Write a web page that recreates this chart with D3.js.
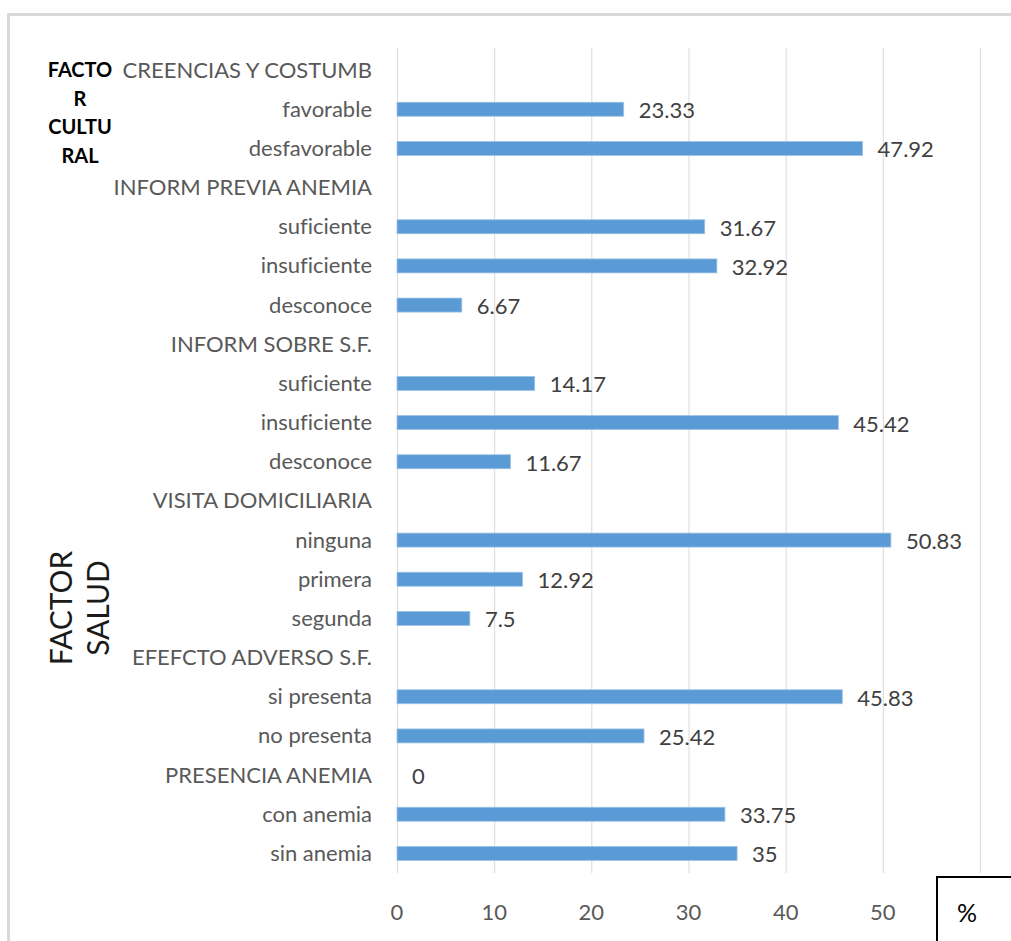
<!DOCTYPE html>
<html>
<head>
<meta charset="utf-8">
<script src="https://cdn.jsdelivr.net/npm/d3@7"></script>
<style>
  html, body { margin: 0; padding: 0; background: #fff; }
  svg { display: block; }
  svg text { font-variant-ligatures: none; font-feature-settings: "liga" 0; }
</style>
</head>
<body>
<svg id="chart" width="1011" height="941"></svg>
<script>
// Category labels, top to bottom
const categories = [
  "CREENCIAS Y COSTUMB", "favorable", "desfavorable",
  "INFORM PREVIA ANEMIA", "suficiente", "insuficiente", "desconoce",
  "INFORM SOBRE S.F.", "suficiente ", "insuficiente ", "desconoce ",
  "VISITA DOMICILIARIA", "ninguna", "primera", "segunda",
  "EFEFCTO ADVERSO S.F.", "si presenta", "no presenta",
  "PRESENCIA ANEMIA", "con anemia", "sin anemia"
];
// Percentage per category (null = group heading without a value)
const values = [
  null, 23.33, 47.92,
  null, 31.67, 32.92, 6.67,
  null, 14.17, 45.42, 11.67,
  null, 50.83, 12.92, 7.5,
  null, 45.83, 25.42,
  0, 33.75, 35
];
const xTicks = [0, 10, 20, 30, 40, 50, 60];
const xTickLabels = ["0", "10", "20", "30", "40", "50", ""];

const FONT = "Lato, 'Liberation Sans', sans-serif";
const svg = d3.select("#chart");

// outer frame
svg.append("rect")
  .attr("x", 8.5).attr("y", 14.5)
  .attr("width", 1100).attr("height", 1100)
  .attr("fill", "none").attr("stroke", "#d9d9d9").attr("stroke-width", 3);

const x = d3.scaleLinear().domain([0, 60]).range([397, 980]);
const y = d3.scaleBand()
  .domain(categories.map((c, i) => i))
  .range([50.5, 873]);

// vertical gridlines
svg.append("g").selectAll("line").data(xTicks).join("line")
  .attr("x1", d => x(d) + 0.5).attr("x2", d => x(d) + 0.5)
  .attr("y1", 48).attr("y2", 873)
  .attr("stroke", "#d9d9d9").attr("stroke-width", 1);

// x tick labels
svg.append("g").selectAll("text").data(xTicks).join("text")
  .attr("x", d => x(d)).attr("y", 920)
  .attr("text-anchor", "middle")
  .attr("font-family", FONT).attr("font-size", 22)
  .attr("fill", "#595959")
  .text((d, i) => xTickLabels[i]);

// category labels
svg.append("g").selectAll("text").data(categories).join("text")
  .attr("x", 372).attr("y", (d, i) => y(i) + y.bandwidth() / 2 + 7.5)
  .attr("text-anchor", "end")
  .attr("font-family", FONT).attr("font-size", 22)
  .attr("fill", "#595959")
  .text(d => d.trim());

const barH = 14;
const rows = values.map((v, i) => ({ v, i })).filter(d => d.v !== null);

// bars
svg.append("g").selectAll("rect").data(rows.filter(d => d.v > 0)).join("rect")
  .attr("x", x(0)).attr("y", d => y(d.i) + y.bandwidth() / 2 - barH / 2)
  .attr("width", d => x(d.v) - x(0)).attr("height", barH)
  .attr("fill", "#5b9bd5").attr("stroke", "#9dc3e6").attr("stroke-width", 0.8);

// value labels
svg.append("g").selectAll("text").data(rows).join("text")
  .attr("x", d => x(d.v) + 15).attr("y", d => y(d.i) + y.bandwidth() / 2 + 9)
  .attr("font-family", FONT).attr("font-size", 22)
  .attr("fill", "#404040")
  .text(d => d3.format("~r")(d.v));

// FACTOR CULTURAL label
const cult = ["FACTO", "R", "CULTU", "RAL"];
svg.append("g").selectAll("text").data(cult).join("text")
  .attr("x", 80).attr("y", (d, i) => 77 + i * 28.5)
  .attr("text-anchor", "middle")
  .attr("font-family", FONT).attr("font-weight", "bold")
  .attr("font-size", 20).attr("fill", "#000")
  .text(d => d);

// FACTOR SALUD label
const salud = svg.append("text")
  .attr("transform", "translate(82,608) rotate(-90)")
  .attr("text-anchor", "middle")
  .attr("font-family", FONT).attr("font-size", 30)
  .attr("fill", "#1a1a1a");
salud.append("tspan").attr("x", 0).attr("y", -10).text("FACTOR");
salud.append("tspan").attr("x", 0).attr("y", 27).text("SALUD");

// % box
svg.append("rect")
  .attr("x", 937).attr("y", 877).attr("width", 100).attr("height", 100)
  .attr("fill", "#fff").attr("stroke", "#000").attr("stroke-width", 2);
svg.append("text")
  .attr("x", 967).attr("y", 922).attr("text-anchor", "middle")
  .attr("font-family", FONT).attr("font-size", 25)
  .attr("fill", "#000").text("%");
</script>
</body>
</html>
